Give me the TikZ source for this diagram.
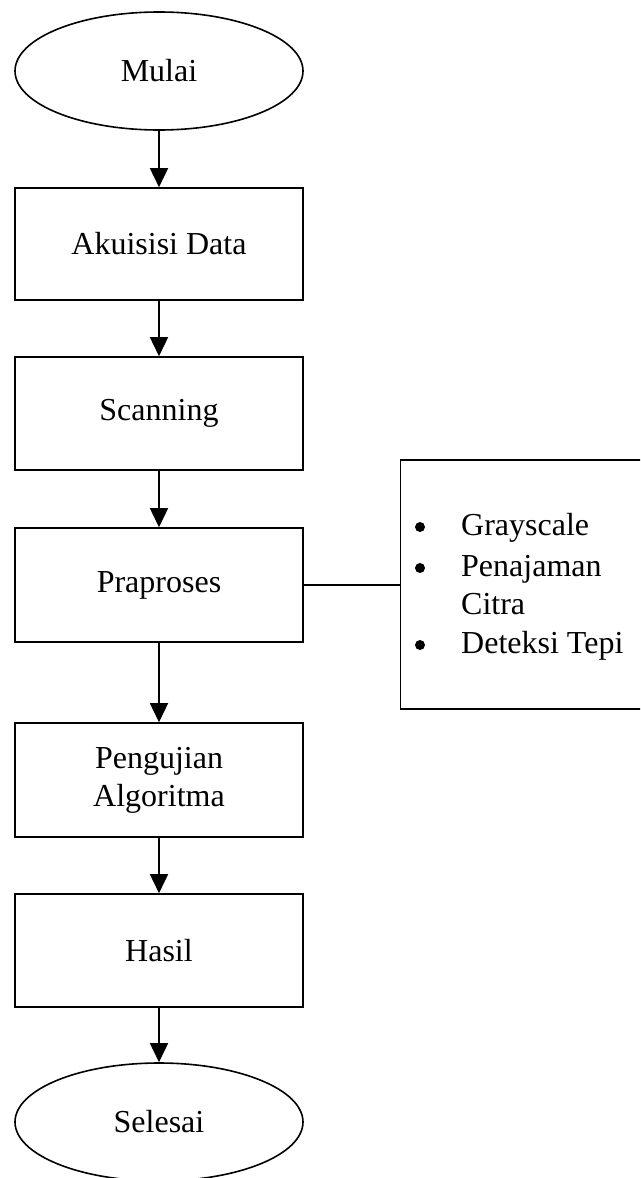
\documentclass[tikz,border=0pt]{standalone}
\usepackage{fontspec}
\setmainfont{Liberation Serif}
\usetikzlibrary{arrows.meta,shapes.geometric}
\begin{document}
\begin{tikzpicture}[x=1pt,y=-1pt,
  every node/.style={font=\fontsize{32}{38}\selectfont, inner sep=0pt},
  term/.style={draw, ellipse, line width=1.6pt, minimum width=288pt, minimum height=118pt},
  proc/.style={draw, rectangle, line width=1.6pt, minimum width=288pt, minimum height=113pt, align=center},
  flow/.style={line width=1.6pt, -{Triangle[width=18pt,length=19pt]}},
  item/.style={anchor=base west},
  dot/.style={circle, fill, minimum size=10pt}]
\useasboundingbox (0,0) rectangle (640,1178);
\clip (0,0) rectangle (640,1178);
\node[term] (mulai) at (159,71) {Mulai};
\node[proc, minimum height=112pt] (akuisisi) at (159,244) {Akuisisi Data};
\node[proc] (scan) at (159,413.5) {Scanning};
\node[proc, minimum height=114pt] (pra) at (159,585) {Praproses};
\node[proc, minimum height=114pt] (uji) at (159,780) {Pengujian\\Algoritma};
\node[proc] (hasil) at (159,950.5) {Hasil};
\node[term] (selesai) at (159,1122) {Selesai};
\node[draw, rectangle, line width=1.6pt, minimum width=259.5pt, minimum height=249pt] (side) at (530.25,584.5) {};
\node[dot] (b1) at (420,527) {};
\node[item] (t1) at (461,535) {Grayscale};
\node[dot] (b2) at (420,568) {};
\node[item] (t2) at (461,576) {Penajaman};
\node[item] (t3) at (461,614) {Citra};
\node[dot] (b4) at (420,645) {};
\node[item] (t4) at (461,653) {Deteksi Tepi};
\draw[flow] (mulai) -- (akuisisi);
\draw[flow] (akuisisi) -- (scan);
\draw[flow] (scan) -- (pra);
\draw[flow] (pra) -- (uji);
\draw[flow] (uji) -- (hasil);
\draw[flow] (hasil) -- (selesai);
\draw[line width=1.6pt] (pra.east) -- (pra.east -| side.west);
\end{tikzpicture}
\end{document}
